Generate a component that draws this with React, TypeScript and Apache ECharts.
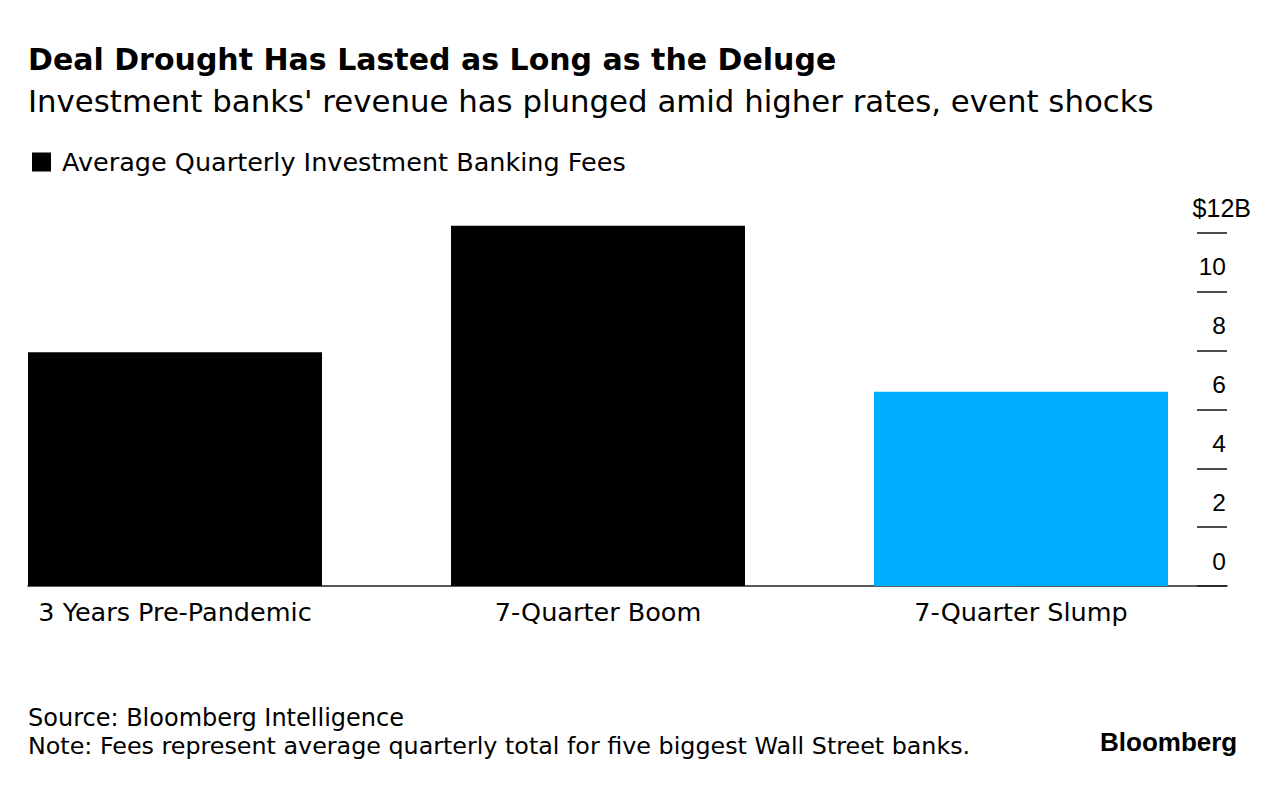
import React, { useEffect, useRef } from "react";
import * as echarts from "echarts";

const categories = ["3 Years Pre-Pandemic", "7-Quarter Boom", "7-Quarter Slump"];
const feeValues = [7.95, 12.25, 6.6];
const barColors = ["#000000", "#000000", "#00AEFF"];
const seriesName = "Average Quarterly Investment Banking Fees";

const FONT = "'DejaVu Sans', 'Liberation Sans', Arial, sans-serif";
const NUMFONT = "'Liberation Sans', Arial, sans-serif";

export default function App() {
  const ref = useRef<HTMLDivElement>(null);
  useEffect(() => {
    if (!ref.current) return;
    const chart = echarts.init(ref.current, null, { renderer: "svg" });
    const option: any = {
      animation: false,
      backgroundColor: "#ffffff",
      textStyle: { fontFamily: FONT },
      legend: {
        left: 27,
        top: 144,
        icon: "rect",
        itemWidth: 19,
        itemHeight: 19,
        itemGap: 12,
        textStyle: { fontSize: 25.5, color: "#000", fontFamily: FONT, padding: [0, 0, 0, 6] },
        data: [{ name: seriesName, itemStyle: { color: "#000" } }],
      },
      grid: [
        { left: -36.5, right: 46.5, top: 233, bottom: 202, outerBoundsMode: "none", containLabel: false },
        { left: 28, right: 52, top: 233, bottom: 202, outerBoundsMode: "none", containLabel: false },
        { left: 1197, right: 52, top: 233, bottom: 202, outerBoundsMode: "none", containLabel: false },
      ],
      xAxis: [
        {
          gridIndex: 0,
          type: "category",
          data: categories,
          axisLine: { show: false },
          axisTick: { show: false },
          axisLabel: { fontSize: 25.5, color: "#000", margin: 13, fontFamily: FONT },
        },
        {
          gridIndex: 1,
          type: "value",
          min: 0,
          max: 1,
          axisLine: { show: true, onZero: false, lineStyle: { color: "#222", width: 1.5 } },
          axisTick: { show: false },
          axisLabel: { show: false },
          splitLine: { show: false },
        },
        {
          gridIndex: 2,
          type: "value",
          min: 0,
          max: 1,
          show: false,
          splitLine: { show: false },
        },
      ],
      yAxis: [
        {
          gridIndex: 0,
          type: "value",
          min: 0,
          max: 12,
          interval: 2,
          show: false,
          splitLine: { show: false },
        },
        {
          gridIndex: 1,
          type: "value",
          min: 0,
          max: 12,
          interval: 2,
          show: false,
          splitLine: { show: false },
        },
        {
          gridIndex: 2,
          type: "value",
          position: "right",
          min: 0,
          max: 12,
          interval: 2,
          axisLine: { show: false },
          axisTick: { show: false },
          splitLine: { show: true, lineStyle: { color: "#111", width: 1.5, type: "solid" } },
          axisLabel: {
            inside: true,
            margin: 1,
            fontSize: 24.5,
            color: "#000",
            fontFamily: NUMFONT,
            verticalAlign: "middle",
            formatter: (v: number) => (v === 12 ? "{u|$12B}" : String(v)),
            padding: [0, 0, 50, 0],
            rich: {
              u: { fontSize: 25, color: "#000", fontFamily: NUMFONT, padding: [0, -25, 0, 0] },
            },
          },
        },
      ],
      series: [
        {
          name: seriesName,
          type: "bar",
          xAxisIndex: 0,
          yAxisIndex: 0,
          barWidth: 294,
          clip: false,
          data: feeValues.map((v, i) => ({ value: v, itemStyle: { color: barColors[i] } })),
          itemStyle: { color: "#000" },
        },
      ],
      graphic: [
        {
          type: "text",
          left: 28,
          top: 44,
          style: {
            text: "Deal Drought Has Lasted as Long as the Deluge",
            font: `bold 30px ${FONT}`,
            fill: "#000",
          },
        },
        {
          type: "text",
          left: 28,
          top: 85,
          style: {
            text: "Investment banks' revenue has plunged amid higher rates, event shocks",
            font: `30.8px ${FONT}`,
            fill: "#000",
          },
        },
        {
          type: "text",
          left: 28,
          top: 706,
          style: { text: "Source: Bloomberg Intelligence", font: `24px ${FONT}`, fill: "#000" },
        },
        {
          type: "text",
          left: 28,
          top: 734,
          style: {
            text: "Note: Fees represent average quarterly total for five biggest Wall Street banks.",
            font: `23.8px ${FONT}`,
            fill: "#000",
          },
        },
        {
          type: "text",
          left: 1100,
          top: 729,
          style: { text: "Bloomberg", font: `bold 26px ${NUMFONT}`, fill: "#000" },
        },
      ],
    };
    chart.setOption(option);
    return () => chart.dispose();
  }, []);
  return (
    <div
      ref={ref}
      style={{ position: "fixed", left: 0, top: 0, width: 1279, height: 788, background: "#fff" }}
    />
  );
}
